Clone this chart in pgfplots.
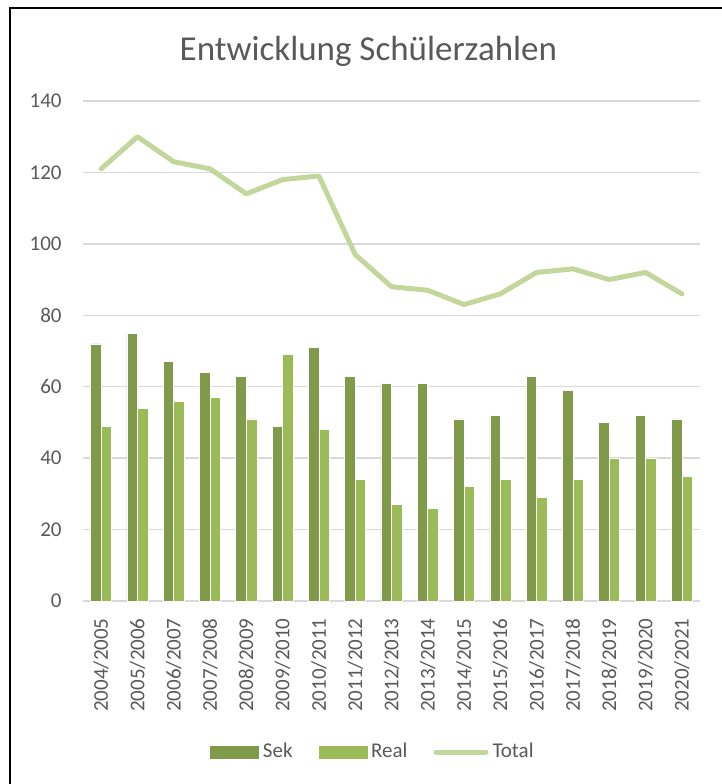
\documentclass[border=0pt]{standalone}
\usepackage{pgfplots}
\pgfplotsset{compat=1.18}
\usepackage{pgfplotstable}
\usepackage{fontspec}
\setmainfont{Carlito}
\definecolor{sek}{RGB}{127,154,72}
\definecolor{real}{RGB}{155,187,89}
\definecolor{total}{RGB}{195,214,155}
\definecolor{txt}{RGB}{89,89,89}
\definecolor{gridc}{RGB}{217,217,217}
\pgfplotstableread{
x sek real total
0 72 49 121
1 75 54 130
2 67 56 123
3 64 57 121
4 63 51 114
5 49 69 118
6 71 48 119
7 63 34 97
8 61 27 88
9 61 26 87
10 51 32 83
11 52 34 86
12 63 29 92
13 59 34 93
14 50 40 90
15 52 40 92
16 51 35 86
}\datatable
\begin{document}
\begin{tikzpicture}
\path[use as bounding box] (0,0) rectangle (361pt,392pt);
\draw[black, line width=0.9pt] (5pt,0pt) -- (5pt,387.8pt) -- (361pt,387.8pt);
\node[txt, anchor=base, inner sep=0pt, font=\fontsize{17.5pt}{20pt}\selectfont] at (184.2pt,361.5pt) {Entwicklung Schülerzahlen};
\begin{axis}[
  at={(41.5pt,91.5pt)}, anchor=south west,
  scale only axis, width=308.5pt, height=250pt,
  xmin=-0.5, xmax=16.5, ymin=0, ymax=140,
  ytick={0,20,...,140},
  xtick={0,...,16},
  xticklabels={2004/2005,2005/2006,2006/2007,2007/2008,2008/2009,2009/2010,2010/2011,2011/2012,2012/2013,2013/2014,2014/2015,2015/2016,2016/2017,2017/2018,2018/2019,2019/2020,2020/2021},
  /pgf/number format/assume math mode=true,
  ticklabel style={font=\fontsize{10.5pt}{12pt}\selectfont, text=txt},
  yticklabel style={anchor=east, inner xsep=10.5pt, inner ysep=0pt},
  xticklabel style={rotate=90, anchor=east, inner xsep=8.5pt, inner ysep=0pt},
  major tick length=0pt,
  axis line style={draw=none},
  axis x line*=bottom, axis y line*=left,
  ymajorgrids, grid style={gridc, line width=0.75pt},
  legend columns=3,
  legend style={draw=none, fill=none, at={(0.4716,-0.302)}, anchor=center,
    font=\fontsize{10.5pt}{12pt}\selectfont, text=txt,
    /tikz/every even column/.append style={column sep=11pt},
    nodes={inner xsep=2pt, inner ysep=1pt}},
  clip=false,
]
\draw[gridc, line width=0.75pt] (axis cs:-0.5,0) -- (axis cs:16.5,0);
\addplot[ybar, bar width=0.29, bar shift=-0.145, fill=sek, draw=white, line width=0.3pt,
  legend image code/.code={\fill[sek] (0pt,-3pt) rectangle (24pt,3pt);}]
  table[x=x, y=sek] {\datatable};
\addlegendentry{Sek}
\addplot[ybar, bar width=0.29, bar shift=0.145, fill=real, draw=white, line width=0.3pt,
  legend image code/.code={\fill[real] (0pt,-3pt) rectangle (24pt,3pt);}]
  table[x=x, y=real] {\datatable};
\addlegendentry{Real}
\addplot[sharp plot, no marks, total, line width=2.5pt, line join=round, line cap=round,
  legend image code/.code={\draw[total, line width=2.5pt, line cap=round] (1pt,0pt) -- (26pt,0pt);}]
  table[x=x, y=total] {\datatable};
\addlegendentry{Total}
\end{axis}
\end{tikzpicture}
\end{document}
